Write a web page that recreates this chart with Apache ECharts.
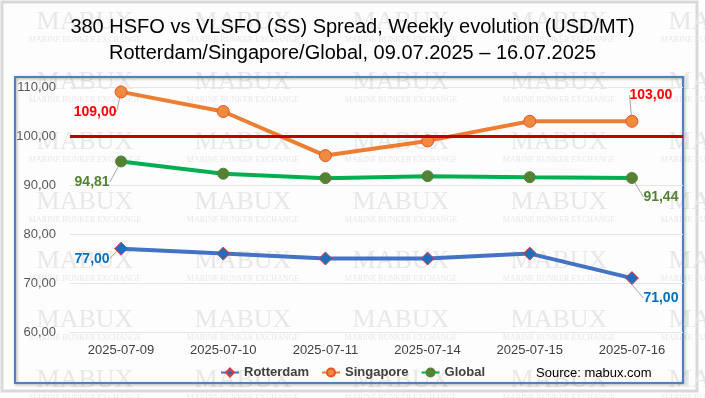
<!DOCTYPE html>
<html>
<head>
<meta charset="utf-8">
<script src="https://cdn.jsdelivr.net/npm/echarts@6/dist/echarts.min.js"></script>
<style>html,body{margin:0;padding:0;background:#fff}#c{width:705px;height:398px}</style>
</head>
<body>
<div id="c"></div>
<script>
const categories = ['2025-07-09','2025-07-10','2025-07-11','2025-07-14','2025-07-15','2025-07-16'];
const rotterdam = [77, 76, 75, 75, 76, 71];
const singapore = [109, 105, 96, 99, 103, 103];
const globalV = [94.81, 92.3, 91.4, 91.8, 91.6, 91.44];
const referenceLevel = 100;
const yMin = 60, yMax = 110, yStep = 10;
const titleLines = ['380 HSFO vs VLSFO (SS) Spread, Weekly evolution (USD/MT)', 'Rotterdam/Singapore/Global, 09.07.2025 \u2013 16.07.2025'];
const sourceText = 'Source: mabux.com';

const fmt = v => Number(v).toFixed(2).replace('.', ',');
const chart = echarts.init(document.getElementById('c'));

const offsets = {
  Rotterdam: [[-29, 10], [29, 20]],
  Singapore: [[-26, 20], [19, -26]],
  Global: [[-29, 21], [29, 19]]
};
function endLabels(values, color) {
  return values.map((v, i) => {
    const end = (i === 0 || i === values.length - 1);
    return {
      value: v,
      label: {
        show: end, position: 'inside', formatter: p => fmt(p.value),
        color: color, fontWeight: 'bold', fontSize: 14, fontFamily: 'Liberation Sans'
      }
    };
  });
}
function layoutFor(name) {
  return function (p) {
    const o = p.dataIndex === 0 ? offsets[name][0] : offsets[name][1];
    return { dx: o[0], dy: o[1] };
  };
}

const wm = [];
const colsX = [-73, 85, 243, 401, 559, 717];
const rowsY = [40, 100, 160, 220, 279, 338, 398];
rowsY.forEach(y => colsX.forEach(x => {
  wm.push({ type: 'text', silent: true, z: -5, x: x, y: y - 18,
    style: { text: 'MABUX', fill: '#e8e8e8', font: '26px "Liberation Serif"', align: 'center', verticalAlign: 'middle' } });
  wm.push({ type: 'text', silent: true, z: -5, x: x, y: y,
    style: { text: 'MARINE BUNKER EXCHANGE', fill: '#e8e8e8', font: '8px "Liberation Serif"', align: 'center', verticalAlign: 'middle' } });
}));

chart.setOption({
  backgroundColor: '#ffffff',
  animation: false,
  title: {
    text: titleLines.join('\n'), left: 'center', top: 9,
    textStyle: { fontSize: 20, lineHeight: 26, fontWeight: 'normal', color: '#000', fontFamily: 'Liberation Sans' }
  },
  legend: {
    top: 361, left: 'center', itemWidth: 18, itemHeight: 10, itemGap: 12,
    textStyle: { fontWeight: 'bold', fontSize: 13, color: '#404040', fontFamily: 'Liberation Sans' },
    data: ['Rotterdam', 'Singapore', 'Global']
  },
  grid: { left: 70, right: 22, top: 87, bottom: 66 },
  xAxis: {
    type: 'category', data: categories, boundaryGap: true,
    axisLine: { show: false }, axisTick: { show: false },
    axisLabel: { color: '#404040', fontSize: 13, margin: 12, fontFamily: 'Liberation Sans' }
  },
  yAxis: {
    type: 'value', min: yMin, max: yMax, interval: yStep,
    axisLine: { show: false }, axisTick: { show: false },
    axisLabel: { formatter: fmt, color: '#595959', fontSize: 13, margin: 14, fontFamily: 'Liberation Sans' },
    splitLine: { lineStyle: { color: '#e6e6e6', width: 1 } }
  },
  graphic: [
    { type: 'rect', silent: true, z: -10, shape: { x: 2, y: 2, width: 695, height: 389 },
      style: { fill: '#fdfdfd', stroke: '#d9d9d9', lineWidth: 3 } },
    ...wm,
    { type: 'rect', silent: true, z: -4, shape: { x: 15, y: 77, width: 668, height: 306 },
      style: { fill: 'rgba(0,0,0,0)', stroke: '#4f81bd', lineWidth: 2, shadowBlur: 3, shadowColor: 'rgba(0,0,0,0.35)', shadowOffsetX: 1, shadowOffsetY: 1 } },
    { type: 'text', x: 536, y: 373, style: { text: sourceText, fill: '#000', font: '13px "Liberation Sans"', verticalAlign: 'middle' } }
  ],
  series: [
    {
      name: 'Rotterdam', type: 'line', data: endLabels(rotterdam, '#0070c0'),
      lineStyle: { color: '#4472c4', width: 4 }, symbol: 'diamond', symbolSize: 13,
      itemStyle: { color: '#1f6dbf', borderColor: '#e03c3c', borderWidth: 1 },
      labelLayout: layoutFor('Rotterdam'),
      labelLine: { show: true, lineStyle: { color: '#a6a6a6', width: 1 } },
      markLine: {
        silent: true, symbol: 'none', label: { show: false },
        lineStyle: { color: '#c00000', width: 3, type: 'solid' },
        data: [{ yAxis: referenceLevel }]
      }
    },
    {
      name: 'Singapore', type: 'line', data: endLabels(singapore, '#ff0000'),
      lineStyle: { color: '#ed7d31', width: 4 }, symbol: 'circle', symbolSize: 12,
      itemStyle: { color: '#f08a3c', borderColor: '#e8532a', borderWidth: 1 },
      labelLayout: layoutFor('Singapore'),
      labelLine: { show: true, lineStyle: { color: '#a6a6a6', width: 1 } }
    },
    {
      name: 'Global', type: 'line', data: endLabels(globalV, '#548235'),
      lineStyle: { color: '#00b050', width: 4 }, symbol: 'circle', symbolSize: 11,
      itemStyle: { color: '#548235', borderColor: '#548235', borderWidth: 1 },
      labelLayout: layoutFor('Global'),
      labelLine: { show: true, lineStyle: { color: '#a6a6a6', width: 1 } }
    }
  ]
});
</script>
</body>
</html>
